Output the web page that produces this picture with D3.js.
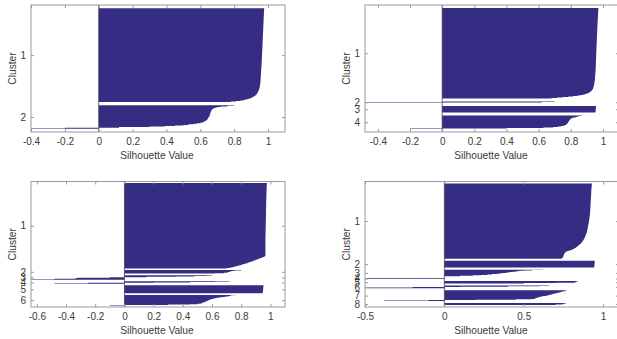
<!DOCTYPE html>
<html>
<head>
<meta charset="utf-8">
<script src="https://cdn.jsdelivr.net/npm/d3@7"></script>
<style>
  body { margin: 0; background: #fff; }
  svg { display: block; font-family: "Liberation Sans", Arial, sans-serif; }
  .axis text { fill: #3a3a3a; font-size: 10px; }
  .axis path { display: none; }
  .axis line { stroke: #9a9a9a; }
  .label { fill: #3a3a3a; font-size: 10.2px; }
</style>
</head>
<body>
<svg id="chart" width="617" height="339"></svg>
<script>
// silhouette value of every point, cluster by cluster, sorted high to low
const p1Cluster1 = [
  0.977, 0.977, 0.977, 0.976, 0.976, 0.976, 0.976, 0.976, 0.975, 0.975,
  0.975, 0.975, 0.975, 0.975, 0.975, 0.974, 0.974, 0.974, 0.974, 0.974,
  0.974, 0.974, 0.973, 0.973, 0.973, 0.973, 0.973, 0.973, 0.973, 0.972,
  0.972, 0.972, 0.972, 0.972, 0.972, 0.972, 0.971, 0.971, 0.971, 0.971,
  0.971, 0.971, 0.971, 0.970, 0.970, 0.970, 0.970, 0.970, 0.970, 0.970,
  0.969, 0.969, 0.969, 0.969, 0.969, 0.969, 0.969, 0.968, 0.968, 0.968,
  0.968, 0.968, 0.968, 0.968, 0.967, 0.967, 0.967, 0.967, 0.967, 0.967,
  0.967, 0.966, 0.966, 0.966, 0.966, 0.966, 0.966, 0.966, 0.965, 0.965,
  0.965, 0.965, 0.965, 0.965, 0.965, 0.964, 0.964, 0.964, 0.964, 0.964,
  0.964, 0.963, 0.963, 0.963, 0.963, 0.963, 0.963, 0.962, 0.962, 0.962,
  0.962, 0.962, 0.962, 0.961, 0.961, 0.961, 0.961, 0.961, 0.960, 0.960,
  0.960, 0.960, 0.960, 0.959, 0.959, 0.959, 0.959, 0.959, 0.958, 0.958,
  0.958, 0.958, 0.958, 0.957, 0.957, 0.957, 0.957, 0.956, 0.956, 0.956,
  0.956, 0.956, 0.956, 0.955, 0.955, 0.955, 0.954, 0.954, 0.954, 0.953,
  0.953, 0.952, 0.952, 0.951, 0.951, 0.950, 0.949, 0.948, 0.947, 0.946,
  0.945, 0.944, 0.942, 0.941, 0.939, 0.937, 0.935, 0.933, 0.930, 0.927,
  0.923, 0.918, 0.913, 0.907, 0.900, 0.892, 0.882, 0.870, 0.855, 0.835,
  0.810, 0.780];
const p1Cluster2 = [
  0.80, 0.76, 0.72, 0.70, 0.69, 0.68, 0.675, 0.67, 0.668, 0.666,
  0.664, 0.662, 0.661, 0.660, 0.659, 0.658, 0.657, 0.656, 0.655, 0.655,
  0.654, 0.650, 0.648, 0.646, 0.644, 0.642, 0.640, 0.636, 0.632, 0.626,
  0.620, 0.610, 0.600, 0.580, 0.560, 0.530, 0.500, 0.450, 0.390, 0.300,
  0.120, -0.20, -0.40];

const p2Cluster1 = [
  0.972, 0.972, 0.972, 0.971, 0.971, 0.971, 0.971, 0.971, 0.970, 0.970,
  0.970, 0.970, 0.970, 0.969, 0.969, 0.969, 0.969, 0.969, 0.969, 0.968,
  0.968, 0.968, 0.968, 0.968, 0.968, 0.967, 0.967, 0.967, 0.967, 0.967,
  0.967, 0.966, 0.966, 0.966, 0.966, 0.966, 0.966, 0.966, 0.965, 0.965,
  0.965, 0.965, 0.965, 0.965, 0.965, 0.964, 0.964, 0.964, 0.964, 0.964,
  0.964, 0.964, 0.963, 0.963, 0.963, 0.963, 0.963, 0.963, 0.963, 0.962,
  0.962, 0.962, 0.962, 0.962, 0.962, 0.962, 0.962, 0.961, 0.961, 0.961,
  0.961, 0.961, 0.961, 0.961, 0.961, 0.960, 0.960, 0.960, 0.960, 0.960,
  0.960, 0.960, 0.960, 0.959, 0.959, 0.959, 0.959, 0.959, 0.959, 0.959,
  0.959, 0.958, 0.958, 0.958, 0.958, 0.958, 0.958, 0.958, 0.958, 0.957,
  0.957, 0.957, 0.957, 0.957, 0.957, 0.957, 0.957, 0.956, 0.956, 0.956,
  0.956, 0.956, 0.956, 0.956, 0.956, 0.955, 0.955, 0.955, 0.955, 0.955,
  0.955, 0.955, 0.954, 0.954, 0.954, 0.954, 0.954, 0.954, 0.953, 0.953,
  0.953, 0.953, 0.953, 0.952, 0.952, 0.952, 0.952, 0.951, 0.951, 0.951,
  0.951, 0.950, 0.950, 0.950, 0.949, 0.949, 0.949, 0.948, 0.948, 0.947,
  0.947, 0.946, 0.946, 0.945, 0.945, 0.944, 0.943, 0.942, 0.941, 0.940,
  0.939, 0.938, 0.936, 0.934, 0.932, 0.929, 0.926, 0.922, 0.918, 0.913,
  0.906, 0.898, 0.888, 0.876, 0.860, 0.840, 0.815, 0.785, 0.750, 0.715,
  0.680];
const p2Cluster2 = [0.70, 0.62, -0.48];
const p2Cluster3 = [0.957, 0.957, 0.956, 0.956, 0.956, 0.956, 0.955, 0.955, 0.955, 0.955,
  0.954, 0.954, 0.953];
const p2Cluster4 = [
  0.87, 0.85, 0.84, 0.83, 0.815, 0.805, 0.80, 0.797, 0.795, 0.792,
  0.79, 0.788, 0.786, 0.784, 0.782, 0.78, 0.777, 0.774, 0.77, 0.765,
  0.755, 0.74, 0.72, 0.69, 0.63, 0.40, -0.20];

const p3Cluster1 = [
  0.976, 0.976, 0.976, 0.975, 0.975, 0.975, 0.975, 0.975, 0.975, 0.974, 0.974, 0.974, 0.974, 0.974, 0.974,
  0.974, 0.974, 0.974, 0.974, 0.974, 0.973, 0.973, 0.973, 0.973, 0.973, 0.973, 0.973, 0.973, 0.973, 0.973,
  0.973, 0.973, 0.973, 0.972, 0.972, 0.972, 0.972, 0.972, 0.972, 0.972, 0.972, 0.972, 0.972, 0.972, 0.972,
  0.972, 0.971, 0.971, 0.971, 0.971, 0.971, 0.971, 0.971, 0.971, 0.971, 0.971, 0.971, 0.971, 0.971, 0.971,
  0.971, 0.971, 0.970, 0.970, 0.970, 0.970, 0.970, 0.970, 0.970, 0.970, 0.970, 0.970, 0.970, 0.970, 0.970,
  0.970, 0.970, 0.970, 0.970, 0.969, 0.969, 0.969, 0.969, 0.969, 0.969, 0.969, 0.969, 0.969, 0.969, 0.969,
  0.969, 0.969, 0.969, 0.969, 0.969, 0.968, 0.968, 0.968, 0.968, 0.968, 0.968, 0.968, 0.968, 0.968, 0.968,
  0.968, 0.968, 0.968, 0.968, 0.968, 0.968, 0.968, 0.967, 0.967, 0.967, 0.967, 0.967, 0.967, 0.967, 0.967,
  0.967, 0.967, 0.967, 0.967, 0.967, 0.967, 0.967, 0.967, 0.967, 0.966, 0.966, 0.966, 0.966, 0.966, 0.966,
  0.966, 0.966, 0.966, 0.966, 0.966, 0.966, 0.966, 0.966, 0.966, 0.966, 0.966, 0.966, 0.966, 0.966, 0.966,
  0.966, 0.966, 0.966, 0.966, 0.966, 0.966, 0.966, 0.966, 0.966, 0.966, 0.966, 0.966, 0.966, 0.966, 0.966,
  0.966, 0.966, 0.966, 0.966, 0.966, 0.966, 0.966, 0.966, 0.966, 0.966, 0.966, 0.966, 0.966, 0.966, 0.966,
  0.965, 0.963, 0.960, 0.955, 0.948, 0.940, 0.932, 0.925, 0.918, 0.911,
  0.904, 0.897, 0.890, 0.882, 0.875, 0.867, 0.859, 0.851, 0.843, 0.835,
  0.826, 0.817, 0.808, 0.799, 0.789, 0.779, 0.769, 0.758, 0.747, 0.736,
  0.722, 0.700];
const p3Cluster2 = [0.80, 0.76, 0.74, 0.73, 0.72, 0.71, 0.70, 0.68, 0.62];
const p3Cluster3 = [0.60, 0.56, 0.48, 0.35, 0.15, -0.10, -0.32, -0.33, -0.34, -0.48, -0.64];
const p3Cluster4 = [0.72, 0.62, 0.45, 0.20, -0.25, -0.48];
const p3Cluster5 = [0.953, 0.953, 0.952, 0.952, 0.952, 0.951, 0.951, 0.951, 0.951, 0.950,
  0.950, 0.950, 0.950, 0.949, 0.949, 0.949, 0.948, 0.948, 0.947, 0.946];
const p3Cluster6 = [
  0.76, 0.73, 0.72, 0.71, 0.69, 0.67, 0.65, 0.63, 0.615, 0.61,
  0.60, 0.59, 0.58, 0.575, 0.57, 0.565, 0.56, 0.55, 0.54, 0.535,
  0.53, 0.52, 0.50, 0.45, 0.30, -0.10];

const p4Cluster1 = [
  0.930, 0.929, 0.929, 0.929, 0.928, 0.928, 0.928, 0.928, 0.927, 0.927,
  0.927, 0.927, 0.927, 0.926, 0.926, 0.926, 0.926, 0.926, 0.926, 0.925,
  0.925, 0.925, 0.925, 0.925, 0.925, 0.925, 0.924, 0.924, 0.924, 0.924,
  0.924, 0.924, 0.924, 0.923, 0.923, 0.923, 0.923, 0.923, 0.923, 0.923,
  0.922, 0.922, 0.922, 0.922, 0.922, 0.922, 0.922, 0.921, 0.921, 0.921,
  0.921, 0.921, 0.921, 0.921, 0.920, 0.920, 0.920, 0.920, 0.920, 0.920,
  0.920, 0.919, 0.919, 0.919, 0.919, 0.919, 0.919, 0.918, 0.918, 0.918,
  0.918, 0.918, 0.917, 0.917, 0.917, 0.917, 0.916, 0.916, 0.916, 0.916,
  0.915, 0.915, 0.915, 0.914, 0.914, 0.914, 0.913, 0.913, 0.913, 0.912,
  0.912, 0.911, 0.911, 0.911, 0.910, 0.910, 0.909, 0.909, 0.908, 0.908,
  0.907, 0.907, 0.906, 0.906, 0.905, 0.905, 0.904, 0.904, 0.903, 0.903,
  0.902, 0.902, 0.901, 0.901, 0.900, 0.900, 0.899, 0.899, 0.898, 0.898,
  0.897, 0.896, 0.895, 0.894, 0.893, 0.892, 0.891, 0.890, 0.889, 0.888,
  0.887, 0.886, 0.885, 0.884, 0.882, 0.881, 0.880, 0.878, 0.877, 0.875,
  0.874, 0.872, 0.870, 0.868, 0.866, 0.864, 0.862, 0.860, 0.857, 0.854,
  0.851, 0.848, 0.845, 0.842, 0.839, 0.836, 0.833, 0.829, 0.825, 0.821,
  0.817, 0.812, 0.806, 0.800, 0.792, 0.784, 0.776, 0.770, 0.766, 0.763,
  0.760, 0.758, 0.756, 0.755, 0.754, 0.753, 0.752, 0.751, 0.750, 0.749,
  0.748, 0.747, 0.745, 0.742, 0.738];
const p4Cluster2 = [0.948, 0.948, 0.947, 0.947, 0.947, 0.947, 0.946, 0.946, 0.946, 0.946,
  0.946, 0.945, 0.945, 0.945, 0.944, 0.944, 0.943];
const p4Cluster3 = [0.62, 0.55, 0.50, 0.47, 0.45, 0.43, 0.41, 0.39, 0.37, 0.35,
  0.33, 0.30, 0.27, 0.23, 0.18, 0.10];
const p4Cluster4 = [-0.49, -0.50];
const p4Cluster5 = [0.84, 0.835, 0.83, 0.82, 0.70, 0.50];
const p4Cluster6 = [0.66, 0.60, 0.40, 0.10, -0.20, -0.48, -0.50];
const p4Cluster7 = [
  0.77, 0.76, 0.75, 0.74, 0.73, 0.72, 0.71, 0.70, 0.69, 0.68,
  0.67, 0.66, 0.65, 0.64, 0.62, 0.61, 0.60, 0.59, 0.58, 0.575,
  0.57, 0.55, 0.45, 0.20, -0.10, -0.38];
const p4Cluster8 = [0.77, 0.76, 0.75, 0.74, 0.70];

const ticksStep02 = ["-0.4", "-0.2", "0", "0.2", "0.4", "0.6", "0.8", "1"];
const ticksStep02Wide = ["-0.6", "-0.4", "-0.2", "0", "0.2", "0.4", "0.6", "0.8", "1"];
const ticksStep05 = ["-0.5", "0", "0.5", "1"];

const X_MAX = 1.1;
const BAR_COLOR = "#352c83";

const panels = [
  { clusters: [p1Cluster1, p1Cluster2], xTicks: ticksStep02, space: 6,
    left: 31, top: 5, width: 254, height: 127 },
  { clusters: [p2Cluster1, p2Cluster2, p2Cluster3, p2Cluster4], xTicks: ticksStep02, space: 6,
    left: 365, top: 5, width: 254, height: 127 },
  { clusters: [p3Cluster1, p3Cluster2, p3Cluster3, p3Cluster4, p3Cluster5, p3Cluster6],
    xTicks: ticksStep02Wide, space: 4, left: 31, top: 181.5, width: 254, height: 125.5 },
  { clusters: [p4Cluster1, p4Cluster2, p4Cluster3, p4Cluster4, p4Cluster5, p4Cluster6, p4Cluster7, p4Cluster8],
    xTicks: ticksStep05, space: 5, left: 365, top: 181.5, width: 254, height: 125.5 }
];

const svg = d3.select("#chart");

panels.forEach(p => {
  // one row per point: a gap, then each cluster followed by a gap
  let pos = p.space;
  const centers = [];
  const rows = p.clusters.map(values => {
    const start = pos;
    const pts = values.map((v, i) => ({ pos: start + i, v: v }));
    pts.push({ pos: start + values.length, v: values[values.length - 1] });
    centers.push(start + values.length / 2);
    pos += values.length + p.space;
    return pts;
  });
  const total = pos;

  const allValues = p.clusters.flat();
  const x = d3.scaleLinear()
    .domain([Math.min(0, d3.min(allValues)), X_MAX])
    .range([p.left, p.left + p.width]);
  const y = d3.scaleLinear()
    .domain([0, total])
    .range([p.top, p.top + p.height]);

  const g = svg.append("g");

  // horizontal bars, drawn as one step shape per cluster
  const area = d3.area()
    .y(d => y(d.pos))
    .x0(x(0))
    .x1(d => x(d.v))
    .curve(d3.curveStepBefore);

  g.selectAll("path.cluster")
    .data(rows)
    .join("path")
    .attr("class", "cluster")
    .attr("d", area)
    .attr("fill", BAR_COLOR);

  // zero baseline
  g.append("line")
    .attr("x1", x(0)).attr("x2", x(0))
    .attr("y1", p.top).attr("y2", p.top + p.height)
    .attr("stroke", "#444")
    .attr("stroke-width", 0.8);

  const tickVals = p.xTicks.map(Number);
  const bottom = p.top + p.height;

  g.append("g")
    .attr("class", "axis")
    .attr("transform", `translate(0,${bottom})`)
    .call(d3.axisBottom(x).tickValues(tickVals)
      .tickFormat((d, i) => p.xTicks[i])
      .tickSizeInner(-3).tickSizeOuter(0).tickPadding(6));
  g.append("g")
    .attr("class", "axis")
    .attr("transform", `translate(0,${p.top})`)
    .call(d3.axisTop(x).tickValues(tickVals).tickFormat("")
      .tickSizeInner(-3).tickSizeOuter(0));

  const labels = p.clusters.map((c, i) => String(i + 1));
  g.append("g")
    .attr("class", "axis")
    .attr("transform", `translate(${p.left},0)`)
    .call(d3.axisLeft(y).tickValues(centers)
      .tickFormat((d, i) => labels[i])
      .tickSizeInner(-3).tickSizeOuter(0).tickPadding(5));
  g.append("g")
    .attr("class", "axis")
    .attr("transform", `translate(${p.left + p.width},0)`)
    .call(d3.axisRight(y).tickValues(centers).tickFormat("")
      .tickSizeInner(-3).tickSizeOuter(0));

  // box
  g.append("rect")
    .attr("x", p.left).attr("y", p.top)
    .attr("width", p.width).attr("height", p.height)
    .attr("fill", "none")
    .attr("stroke", "#9a9a9a")
    .attr("stroke-width", 1);

  g.append("text")
    .attr("class", "label")
    .attr("x", p.left + p.width / 2 - 1)
    .attr("y", bottom + 27)
    .attr("text-anchor", "middle")
    .text("Silhouette Value");

  g.append("text")
    .attr("class", "label")
    .attr("transform", `translate(${p.left - 15},${p.top + p.height / 2}) rotate(-90)`)
    .attr("text-anchor", "middle")
    .text("Cluster");
});
</script>
</body>
</html>
